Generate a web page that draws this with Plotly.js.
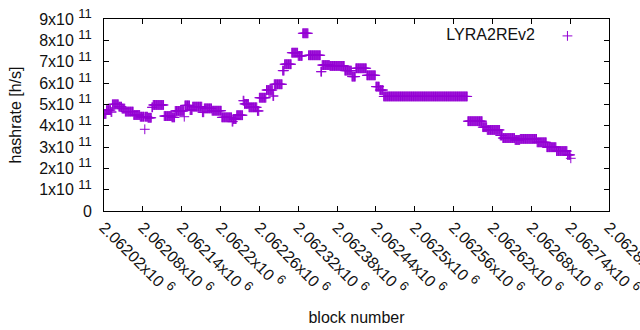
<!DOCTYPE html>
<html>
<head>
<meta charset="utf-8">
<script src="https://cdn.plot.ly/plotly-3.0.1.min.js"></script>
<style>html,body{margin:0;padding:0;background:#fff;}#chart{width:640px;height:330px;}</style>
</head>
<body>
<div id="chart"></div>
<script>
// Hashrate readings: each value holds from its start block until the next start block (step data, one point per block)
const runStartBlock = [2062020,2062024,2062031,2062033,2062043,2062048,2062053,2062066,2062076,2062083,2062084,2062088,2062094,2062096,2062113,2062125,2062130,2062144,2062145,2062153,2062157,2062172,2062175,2062187,2062202,2062218,2062220,2062225,2062235,2062237,2062244,2062257,2062260,2062271,2062281,2062283,2062296,2062299,2062310,2062320,2062327,2062336,2062355,2062357,2062369,2062392,2062403,2062409,2062426,2062440,2062446,2062452,2062582,2062605,2062612,2062632,2062636,2062655,2062663,2062689,2062704,2062719,2062736,2062741];
const runHashrate = [4.55e11,4.73e11,4.64e11,5.00e11,4.89e11,4.80e11,4.66e11,4.50e11,4.42e11,3.83e11,4.42e11,4.37e11,4.86e11,4.97e11,4.45e11,4.39e11,4.69e11,4.42e11,4.95e11,4.73e11,4.89e11,4.63e11,4.81e11,4.70e11,4.39e11,4.19e11,4.31e11,4.49e11,5.17e11,5.02e11,4.86e11,4.69e11,5.31e11,5.67e11,5.39e11,5.94e11,6.58e11,6.88e11,7.42e11,7.27e11,8.33e11,7.30e11,6.53e11,6.84e11,6.80e11,6.58e11,6.30e11,6.69e11,6.36e11,5.83e11,5.67e11,5.37e11,4.21e11,3.93e11,3.80e11,3.54e11,3.42e11,3.33e11,3.38e11,3.22e11,2.99e11,2.81e11,2.63e11,2.47e11];
const lastBlock = 2062741;
const seriesName = 'LYRA2REv2';

const xTickVals = [2062020,2062080,2062140,2062200,2062260,2062320,2062380,2062440,2062500,2062560,2062620,2062680,2062740,2062800];
const xTickMantissa = ['2.06202','2.06208','2.06214','2.0622','2.06226','2.06232','2.06238','2.06244','2.0625','2.06256','2.06262','2.06268','2.06274','2.0628'];
const yTickVals = [0,1e11,2e11,3e11,4e11,5e11,6e11,7e11,8e11,9e11];
const yTickMantissa = ['0','1','2','3','4','5','6','7','8','9'];

const sup = e => "x10 <sup><span style='font-size:13px'>" + e + "</span></sup>";
const xTickText = xTickMantissa.map(m => m + sup('6'));
const yTickText = yTickMantissa.map(m => m === '0' ? '0' : m + sup('11'));

const blocks = [], rates = [];
for (let i = 0; i < runStartBlock.length; i++) {
  const end = (i + 1 < runStartBlock.length) ? runStartBlock[i + 1] - 1 : lastBlock;
  for (let b = runStartBlock[i]; b <= end; b++) { blocks.push(b); rates.push(runHashrate[i]); }
}

const FONT = {family: 'Liberation Sans, Arial, sans-serif', size: 16, color: '#111'};
const violet = '#9400D3';

const trace = {
  x: blocks, y: rates, type: 'scatter', mode: 'markers', name: '',
  marker: {symbol: 'cross-thin', size: 7, color: violet, line: {color: violet, width: 1}}
};

const axisCommon = {
  showgrid: false, zeroline: false, showline: true, linecolor: '#000', linewidth: 1,
  mirror: 'ticks', ticks: 'inside', ticklen: 5, tickcolor: '#000', tickwidth: 1,
  tickfont: FONT, ticklabeloverflow: 'allow'
};

const layout = {
  width: 640, height: 330,
  margin: {l: 104, r: 31, t: 19, b: 119},
  paper_bgcolor: '#fff', plot_bgcolor: '#fff',
  font: FONT,
  showlegend: true,
  legend: {
    x: 0.674, y: 1.0, xanchor: 'left', yanchor: 'top',
    bgcolor: 'rgba(0,0,0,0)', font: FONT,
    title: {text: seriesName + '\u00a0', side: 'left', font: FONT}
  },
  xaxis: Object.assign({}, axisCommon, {
    range: [2062020, 2062800], tickmode: 'array', tickvals: xTickVals, ticktext: xTickText,
    tickangle: 45, automargin: false,
    title: {text: 'block number', font: FONT, standoff: 14}
  }),
  yaxis: Object.assign({}, axisCommon, {
    range: [0, 9e11], tickmode: 'array', tickvals: yTickVals, ticktext: yTickText,
    automargin: false, ticklabelstandoff: 8,
    title: {text: 'hashrate [h/s]', font: FONT, standoff: 13}
  })
};

Plotly.newPlot('chart', [trace], layout, {staticPlot: true, displayModeBar: false});
</script>
</body>
</html>
